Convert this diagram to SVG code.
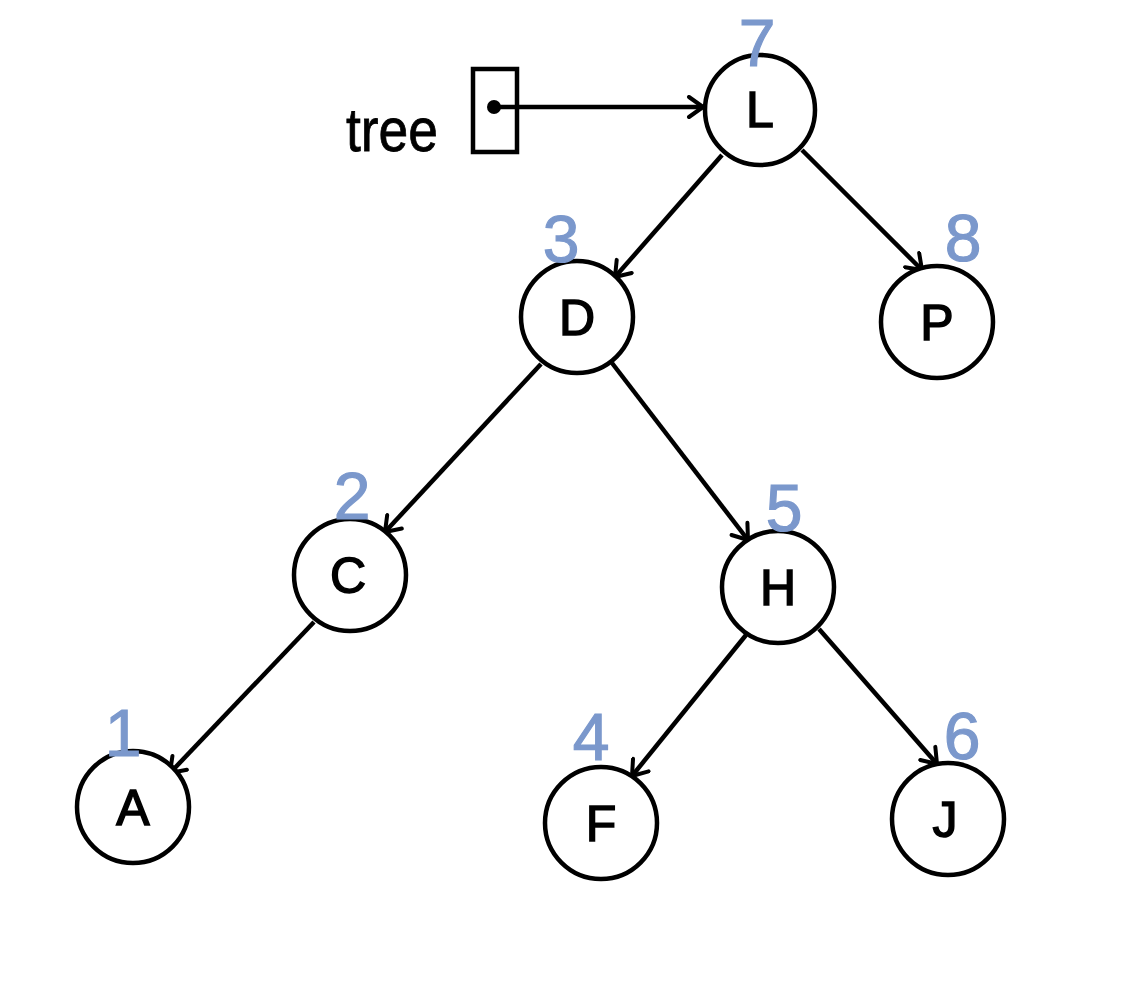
<svg xmlns="http://www.w3.org/2000/svg" width="1131" height="1000" viewBox="0 0 1131 1000">
<style>
.node circle{fill:#fff;stroke:#000;stroke-width:4.5}
.lbl{font-family:"Liberation Sans",Arial,sans-serif;font-size:50px;fill:#000;stroke:#000;stroke-width:1.5;text-anchor:middle}
.num{font-family:"Liberation Sans",Arial,sans-serif;font-size:66px;fill:#7b98cc;stroke:#7b98cc;stroke-width:1.2;text-anchor:middle}
.edge{stroke:#000;stroke-width:4.5;fill:none;marker-end:url(#arr)}
</style>
<defs>
<marker id="arr" viewBox="0 0 24 24" refX="19" refY="12" markerWidth="24" markerHeight="24" markerUnits="userSpaceOnUse" orient="auto">
<path d="M5 2 L19 12 L5 22" fill="none" stroke="#000" stroke-width="4" stroke-linecap="round" stroke-linejoin="round"/>
</marker>
</defs>
<rect width="1131" height="1000" fill="#fff"/>
<g id="pointer">
<text x="392" y="151" font-family="Liberation Sans,Arial,sans-serif" font-size="62" stroke="#000" stroke-width="0.8" text-anchor="middle" textLength="92" lengthAdjust="spacingAndGlyphs">tree</text>
<rect x="473" y="69" width="44" height="83" fill="none" stroke="#000" stroke-width="4.5"/>
<circle cx="494" cy="107" r="7" fill="#000"/>
</g>
<g id="connectors">
<line class="edge" x1="494" y1="107" x2="703" y2="107"/>
<line class="edge" x1="722" y1="155" x2="615" y2="277"/>
<line class="edge" x1="802" y1="150" x2="922" y2="270"/>
<line class="edge" x1="541" y1="364" x2="385" y2="532"/>
<line class="edge" x1="612" y1="363" x2="748" y2="540"/>
<line class="edge" x1="314" y1="622" x2="170" y2="773"/>
<line class="edge" x1="746" y1="635" x2="632" y2="776"/>
<line class="edge" x1="819" y1="629" x2="937" y2="764"/>
</g>
<g id="node-L" class="node"><circle cx="760" cy="110" r="55"/><text class="lbl" x="760" y="127">L</text><text class="num" x="757" y="66">7</text></g>
<g id="node-D" class="node"><circle cx="577" cy="317" r="56"/><text class="lbl" x="577" y="335">D</text><text class="num" x="561" y="262">3</text></g>
<g id="node-P" class="node"><circle cx="937" cy="322" r="56"/><text class="lbl" x="937" y="340">P</text><text class="num" x="963" y="261">8</text></g>
<g id="node-C" class="node"><circle cx="350" cy="575" r="56"/><text class="lbl" x="348" y="593">C</text><text class="num" x="352" y="519">2</text></g>
<g id="node-H" class="node"><circle cx="778" cy="587" r="56"/><text class="lbl" x="778" y="605">H</text><text class="num" x="784" y="531">5</text></g>
<g id="node-A" class="node"><circle cx="133" cy="807" r="56"/><text class="lbl" x="133" y="825">A</text><text class="num" x="123" y="756">1</text></g>
<g id="node-F" class="node"><circle cx="601" cy="823" r="56"/><text class="lbl" x="601" y="841">F</text><text class="num" x="591" y="760">4</text></g>
<g id="node-J" class="node"><circle cx="948" cy="819" r="56"/><text class="lbl" x="945" y="837">J</text><text class="num" x="962" y="759">6</text></g>
</svg>
